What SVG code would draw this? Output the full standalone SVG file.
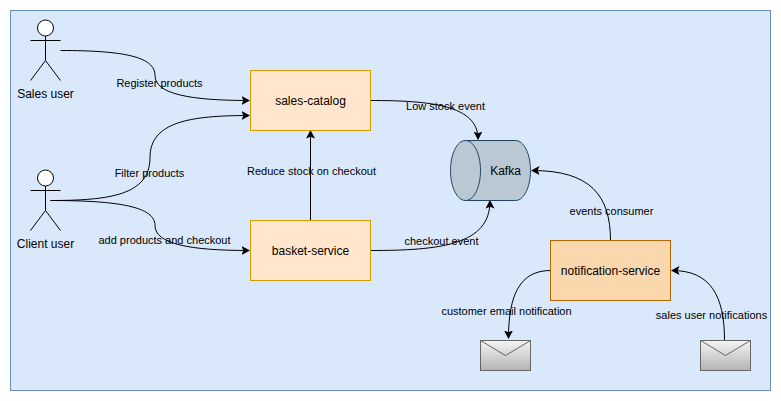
<svg xmlns="http://www.w3.org/2000/svg" width="781" height="401" viewBox="0 0 781 401">
<style>
text{font-family:"Liberation Sans",Arial,Helvetica,sans-serif;fill:#000;text-anchor:middle}
.n{font-size:12px}.l{font-size:11px}
.box{stroke-width:1}
.c{fill:none;stroke:#000;stroke-width:1;marker-end:url(#arrow)}
.a{fill:none;stroke:#000;stroke-width:1}
.env{fill:url(#grey);stroke:#666}
</style>
<defs>
<marker id="arrow" markerUnits="userSpaceOnUse" markerWidth="10" markerHeight="10" refX="7.500" refY="5" orient="auto" viewBox="0 0 10 10"><path d="M0 0.500L8.500 5L0 9.500L1.800 5Z" fill="#000"/></marker>
<linearGradient id="grey" x1="0" y1="0" x2="0" y2="1"><stop offset="0" stop-color="#f5f5f5"/><stop offset="1" stop-color="#b3b3b3"/></linearGradient>
</defs>
<rect x="10.500" y="10.500" width="760" height="380" fill="#dae8fc" stroke="#6c8ebf"/>
<g id="connectors">
<path class="c" d="M60.500 50.500C125 50.500 155 57 155 75.500C155 94 190 100.500 249 100.500"/>
<path class="c" d="M50.500 200.500C110 200.500 150 195 150 157.500C150 122 190 115.500 249 115.500"/>
<path class="c" d="M50.500 200.500C120 200.500 155 207 155 225.500C155 244 190 250.500 249 250.500"/>
<path class="c" d="M310.500 220.500V131"/>
<path class="c" d="M370.500 100.500C430 100.500 478 105 478 139"/>
<path class="c" d="M370.500 250.500C440 250.500 490 245 490 201"/>
<path class="c" d="M610.500 240.500C610.500 195 590 170.500 532 170.500"/>
<path class="c" d="M550.500 270.500C520 270.500 508.500 295 508.500 338"/>
<path class="c" d="M724.500 340.500C724.500 295 710 270.500 672 270.500"/>
</g>
<g id="sales-user"><circle cx="45.500" cy="28" r="8" fill="#fff" stroke="#000"/><path class="a" d="M45.500 36V60.500M30.500 40.500H60.500M45.500 60.500L30.500 80.500M45.500 60.500L60.500 80.500"/><text class="n" x="45.500" y="98">Sales user</text></g>
<g id="client-user"><circle cx="45.500" cy="178" r="8" fill="#fff" stroke="#000"/><path class="a" d="M45.500 186V210.500M30.500 190.500H60.500M45.500 210.500L30.500 230.500M45.500 210.500L60.500 230.500"/><text class="n" x="45.500" y="248">Client user</text></g>
<g id="sales-catalog"><rect class="box" x="250.500" y="70.500" width="120" height="60" fill="#ffe6cc" stroke="#d79b00"/><text class="n" x="310.500" y="104.500">sales-catalog</text></g>
<g id="basket-service"><rect class="box" x="250.500" y="220.500" width="120" height="60" fill="#ffe6cc" stroke="#d79b00"/><text class="n" x="310.500" y="254.500">basket-service</text></g>
<g id="notification-service"><rect class="box" x="550.500" y="240.500" width="120" height="60" fill="#fad7ac" stroke="#b46504"/><text class="n" x="610.500" y="274.500">notification-service</text></g>
<g id="kafka"><path d="M465.500 140.500H515.500C524 140.500 530.500 154 530.500 170.500C530.500 187 524 200.500 515.500 200.500H465.500C457 200.500 450.500 187 450.500 170.500C450.500 154 457 140.500 465.500 140.500Z" fill="#bac8d3" stroke="#23445d"/><path d="M465.500 140.500C474 140.500 480.500 154 480.500 170.500C480.500 187 474 200.500 465.500 200.500" fill="none" stroke="#23445d"/><text class="n" x="505.500" y="174.500">Kafka</text></g>
<g id="email-out"><rect class="env" x="480.500" y="340.500" width="50" height="30"/><path d="M480.500 340.500L505.500 355.500L530.500 340.500" fill="none" stroke="#666"/></g>
<g id="email-in"><rect class="env" x="700.500" y="340.500" width="50" height="30"/><path d="M700.500 340.500L725.500 355.500L750.500 340.500" fill="none" stroke="#666"/></g>
<g id="labels">
<text class="l" x="159.500" y="87">Register products</text>
<text class="l" x="149.500" y="177">Filter products</text>
<text class="l" x="164.500" y="244">add products and checkout</text>
<text class="l" x="311.500" y="175">Reduce stock on checkout</text>
<text class="l" x="445.500" y="110">Low stock event</text>
<text class="l" x="441.500" y="245">checkout event</text>
<text class="l" x="611.500" y="215">events consumer</text>
<text class="l" x="506.500" y="315">customer email notification</text>
<text class="l" x="711.500" y="319">sales user notifications</text>
</g>
</svg>
